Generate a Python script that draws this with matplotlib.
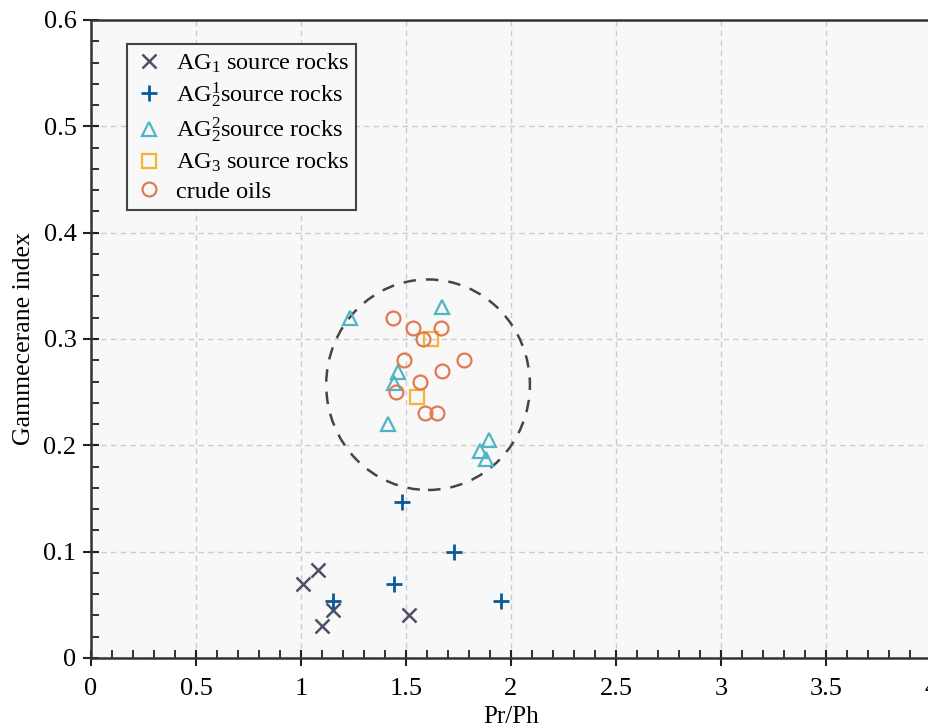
import matplotlib
matplotlib.use("Agg")
import matplotlib.pyplot as plt
from matplotlib.patches import Ellipse
from matplotlib.ticker import MultipleLocator, FuncFormatter

plt.rcParams['font.family'] = ['Liberation Serif', 'DejaVu Serif']
plt.rcParams['mathtext.fontset'] = 'custom'
plt.rcParams['mathtext.rm'] = 'Liberation Serif'
plt.rcParams['mathtext.it'] = 'Liberation Serif:italic'

# Data (Pr/Ph, Gammacerane index)
ag1_x = [1.010, 1.083, 1.152, 1.098, 1.516]
ag1_y = [0.070, 0.083, 0.045, 0.030, 0.040]

ag21_x = [1.482, 1.730, 1.441, 1.154, 1.952]
ag21_y = [0.147, 0.100, 0.070, 0.054, 0.054]

ag22_x = [1.233, 1.673, 1.463, 1.443, 1.413, 1.895, 1.852, 1.879]
ag22_y = [0.320, 0.330, 0.269, 0.259, 0.220, 0.205, 0.195, 0.187]

ag3_x = [1.619, 1.554]
ag3_y = [0.300, 0.245]

oil_x = [1.436, 1.535, 1.665, 1.579, 1.492, 1.776, 1.670, 1.567, 1.452, 1.590, 1.646]
oil_y = [0.320, 0.310, 0.310, 0.300, 0.280, 0.280, 0.270, 0.260, 0.250, 0.230, 0.230]

labels = [r'AG$_1$ source rocks', r'AG$_2^1$source rocks', r'AG$_2^2$source rocks',
          r'AG$_3$ source rocks', 'crude oils']

fig = plt.figure(figsize=(9.29, 7.27), dpi=100)
fig.patch.set_facecolor('white')
ax = fig.add_axes([91/929, 1 - 658/727, (931 - 91)/929, (658 - 20)/727])
ax.set_facecolor('#f8f8f8')

ax.set_xlim(0, 4)
ax.set_ylim(0, 0.6)

ax.grid(True, which='major', linestyle=(0, (4, 3)), color='#cccccc', linewidth=1.0)
ax.set_axisbelow(True)

ms = 10
ax.plot(ag1_x, ag1_y, 'x', color='#4e5166', ms=ms, mew=1.8, linestyle='none', label=labels[0])
ax.plot(ag21_x, ag21_y, '+', color='#0a5a98', ms=ms + 2, mew=2.0, linestyle='none', label=labels[1])
ax.plot(ag22_x, ag22_y, '^', mfc='none', mec='#4fb4c6', ms=ms, mew=1.6, linestyle='none', label=labels[2])
ax.plot(ag3_x, ag3_y, 's', mfc='none', mec='#f5b432', ms=ms, mew=1.6, linestyle='none', label=labels[3])
ax.plot(oil_x, oil_y, 'o', mfc='none', mec='#e07a50', ms=ms, mew=1.6, linestyle='none', label=labels[4])

ell = Ellipse((1.605, 0.257), 0.97, 0.198, fill=False, edgecolor='#454545',
              linestyle=(0, (5, 4)), linewidth=1.8)
ax.add_patch(ell)

ax.xaxis.set_major_locator(MultipleLocator(0.5))
ax.xaxis.set_minor_locator(MultipleLocator(0.1))
ax.yaxis.set_major_locator(MultipleLocator(0.1))
ax.yaxis.set_minor_locator(MultipleLocator(0.02))
ax.xaxis.set_major_formatter(FuncFormatter(lambda v, p: f'{v:g}'))
ax.yaxis.set_major_formatter(FuncFormatter(lambda v, p: f'{v:g}'))

ax.tick_params(which='major', direction='inout', length=11, width=1.5, labelsize=19, color='#222222')
ax.tick_params(which='minor', direction='in', length=6, width=1.3, color='#222222')
ax.tick_params(axis='x', pad=9)
ax.tick_params(axis='y', pad=5)

for s in ['left', 'bottom', 'top']:
    ax.spines[s].set_linewidth(1.8)
    ax.spines[s].set_color('#333333')
ax.spines['right'].set_visible(False)

ax.set_xlabel('Pr/Ph', fontsize=18, labelpad=4)
ax.set_ylabel('Gammecerane index', fontsize=18.5, labelpad=6)

leg = ax.legend(loc='upper left', bbox_to_anchor=(0.043, 0.962), fontsize=17.5,
                frameon=True, fancybox=False, edgecolor='#444444', facecolor='#f8f8f8',
                framealpha=1, handletextpad=0.5, labelspacing=0.25, borderpad=0.3,
                handlelength=1.2, borderaxespad=0)
leg.get_frame().set_linewidth(1.5)

fig.savefig('out.png', dpi=100)
